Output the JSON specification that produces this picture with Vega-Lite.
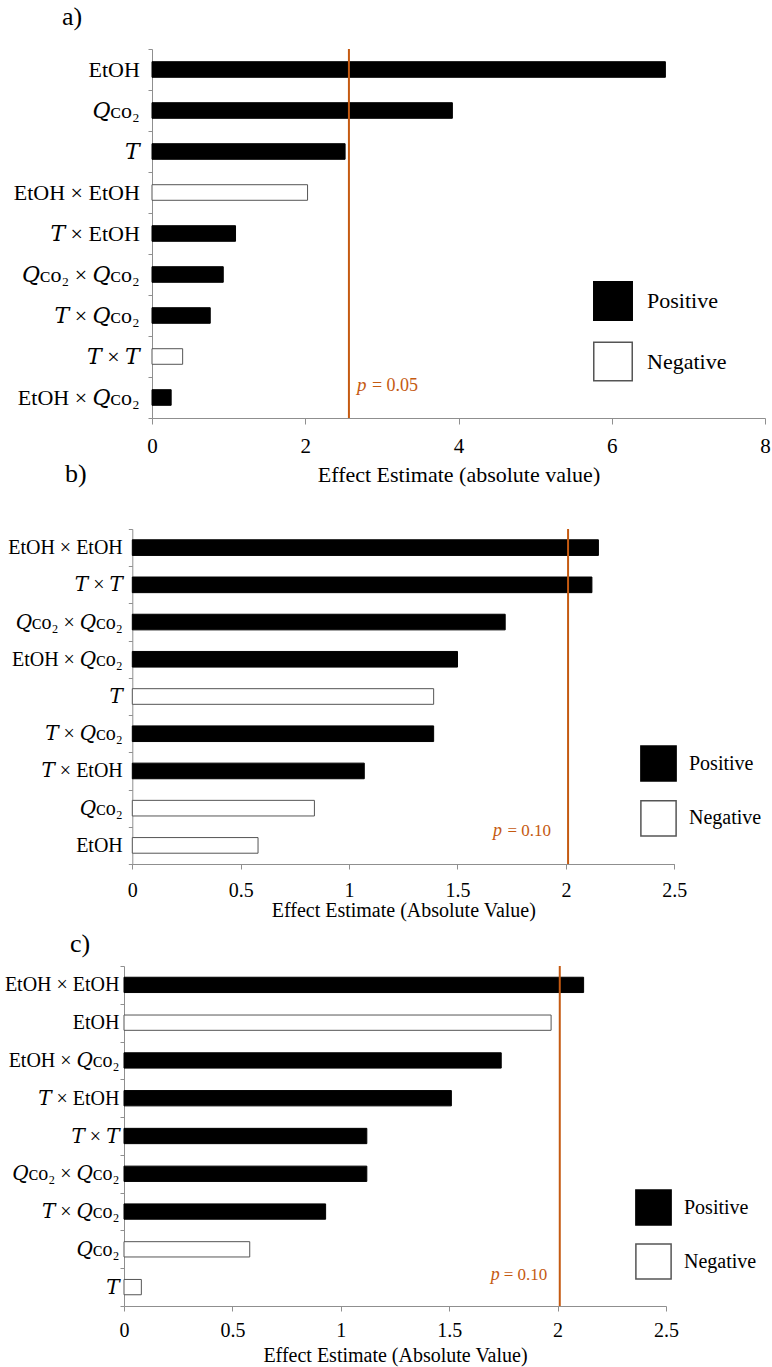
{
  "$schema": "https://vega.github.io/schema/vega-lite/v6.json",
  "background": "white",
  "padding": {"left": 4, "top": 4, "right": 2, "bottom": 2},
  "config": {
    "font": "Liberation Serif",
    "view": {"stroke": null},
    "axis": {
      "domainColor": "#8f8f8f",
      "tickColor": "#8f8f8f",
      "labelColor": "#000000",
      "titleColor": "#000000",
      "titleFontWeight": "normal",
      "labelFont": "Liberation Serif, DejaVu Serif",
      "titleFont": "Liberation Serif",
      "grid": false,
      "labelOverlap": false,
      "labelFlush": false
    },
    "title": {"fontWeight": "normal", "color": "#000000", "font": "Liberation Serif", "anchor": "start", "frame": "group", "baseline": "alphabetic", "fontSize": 26},
    "legend": {"labelFont": "Liberation Serif", "labelColor": "#000000", "padding": 0, "symbolType": "square", "orient": "none"}
  },
  "datasets": {
    "effectsA": [
      {"term": "EtOH", "effect": 6.70, "sign": "Positive"},
      {"term": "𝑄ᴄᴏ₂", "effect": 3.92, "sign": "Positive"},
      {"term": "𝑇", "effect": 2.52, "sign": "Positive"},
      {"term": "EtOH × EtOH", "effect": 2.03, "sign": "Negative"},
      {"term": "𝑇 × EtOH", "effect": 1.09, "sign": "Positive"},
      {"term": "𝑄ᴄᴏ₂ × 𝑄ᴄᴏ₂", "effect": 0.93, "sign": "Positive"},
      {"term": "𝑇 × 𝑄ᴄᴏ₂", "effect": 0.76, "sign": "Positive"},
      {"term": "𝑇 × 𝑇", "effect": 0.40, "sign": "Negative"},
      {"term": "EtOH × 𝑄ᴄᴏ₂", "effect": 0.25, "sign": "Positive"}
    ],
    "effectsB": [
      {"term": "EtOH × EtOH", "effect": 2.15, "sign": "Positive"},
      {"term": "𝑇 × 𝑇", "effect": 2.12, "sign": "Positive"},
      {"term": "𝑄ᴄᴏ₂ × 𝑄ᴄᴏ₂", "effect": 1.72, "sign": "Positive"},
      {"term": "EtOH × 𝑄ᴄᴏ₂", "effect": 1.50, "sign": "Positive"},
      {"term": "𝑇", "effect": 1.39, "sign": "Negative"},
      {"term": "𝑇 × 𝑄ᴄᴏ₂", "effect": 1.39, "sign": "Positive"},
      {"term": "𝑇 × EtOH", "effect": 1.07, "sign": "Positive"},
      {"term": "𝑄ᴄᴏ₂", "effect": 0.84, "sign": "Negative"},
      {"term": "EtOH", "effect": 0.58, "sign": "Negative"}
    ],
    "effectsC": [
      {"term": "EtOH × EtOH", "effect": 2.12, "sign": "Positive"},
      {"term": "EtOH", "effect": 1.97, "sign": "Negative"},
      {"term": "EtOH × 𝑄ᴄᴏ₂", "effect": 1.74, "sign": "Positive"},
      {"term": "𝑇 × EtOH", "effect": 1.51, "sign": "Positive"},
      {"term": "𝑇 × 𝑇", "effect": 1.12, "sign": "Positive"},
      {"term": "𝑄ᴄᴏ₂ × 𝑄ᴄᴏ₂", "effect": 1.12, "sign": "Positive"},
      {"term": "𝑇 × 𝑄ᴄᴏ₂", "effect": 0.93, "sign": "Positive"},
      {"term": "𝑄ᴄᴏ₂", "effect": 0.58, "sign": "Negative"},
      {"term": "𝑇", "effect": 0.08, "sign": "Negative"}
    ]
  },
  "bounds": "full",
  "spacing": -24,
  "resolve": {"scale": {"x": "independent", "y": "independent", "fill": "independent", "stroke": "independent"}},
  "vconcat": [
    {
      "title": {"text": "a)", "dx": -62, "offset": 8},
      "width": 641,
      "height": 369,
      "layer": [
        {
          "data": {"name": "effectsA"},
          "mark": {"type": "bar", "height": {"band": 0.38}, "strokeWidth": 1},
          "encoding": {
            "y": {"field": "term", "type": "nominal", "sort": null, "title": null,
                  "scale": {"paddingInner": 0, "paddingOuter": 0},
                  "axis": {"tickBand": "extent", "tickSize": 4, "labelPadding": 8.7, "labelFontSize": 22, "offset": -28}},
            "x": {"field": "effect", "type": "quantitative", "title": "Effect Estimate (absolute value)",
                  "scale": {"domain": [0, 8], "nice": false, "range": [28, 641]},
                  "axis": {"values": [0, 2, 4, 6, 8], "tickSize": 6, "labelPadding": 11, "labelFontSize": 21, "titleFontSize": 22, "titlePadding": 8, "format": "~g"}},
            "fill": {"field": "sign", "type": "nominal", "scale": {"domain": ["Positive", "Negative"], "range": ["#000000", "#ffffff"]},
                     "legend": {"title": null, "orient": "none", "legendX": 469, "legendY": 232, "symbolSize": 1480, "symbolStrokeWidth": 1.5, "labelFontSize": 22, "labelOffset": 14, "rowPadding": 14.5}},
            "stroke": {"field": "sign", "type": "nominal", "scale": {"domain": ["Positive", "Negative"], "range": ["#000000", "#555555"]},
                       "legend": {"title": null, "orient": "none", "legendX": 469, "legendY": 232, "symbolSize": 1480, "symbolStrokeWidth": 1.5, "labelFontSize": 22, "labelOffset": 14, "rowPadding": 14.5}}
          }
        },
        {
          "data": {"values": [{"threshold": 2.57, "note": "= 0.05"}]},
          "layer": [
            {"mark": {"type": "rule", "color": "#C55A11", "strokeWidth": 2},
             "encoding": {"x": {"field": "threshold", "type": "quantitative", "title": "Effect Estimate (absolute value)"}}},
            {"mark": {"type": "text", "text": "p", "fontStyle": "italic", "fontSize": 19, "color": "#C55A11", "align": "left", "baseline": "alphabetic", "dx": 8, "dy": -27},
             "encoding": {"x": {"field": "threshold", "type": "quantitative", "title": "Effect Estimate (absolute value)"}, "y": {"value": "height"}}},
            {"mark": {"type": "text", "fontSize": 18, "color": "#C55A11", "align": "left", "baseline": "alphabetic", "dx": 23, "dy": -27},
             "encoding": {"x": {"field": "threshold", "type": "quantitative", "title": "Effect Estimate (absolute value)"}, "y": {"value": "height"}, "text": {"field": "note"}}}
          ]
        }
      ]
    },
    {
      "bounds": "full",
      "spacing": 10,
      "resolve": {"scale": {"x": "independent", "y": "independent", "fill": "independent", "stroke": "independent"}},
      "vconcat": [
        {
          "title": {"text": "b)", "dx": -59, "offset": 32},
          "width": 551,
          "height": 335,
          "layer": [
            {
              "data": {"name": "effectsB"},
              "mark": {"type": "bar", "height": {"band": 0.42}, "strokeWidth": 1},
              "encoding": {
                "y": {"field": "term", "type": "nominal", "sort": null, "title": null,
                      "scale": {"paddingInner": 0, "paddingOuter": 0},
                      "axis": {"tickBand": "extent", "tickSize": 4, "labelPadding": 6, "labelFontSize": 20, "offset": -8.3}},
                "x": {"field": "effect", "type": "quantitative", "title": "Effect Estimate (Absolute Value)",
                      "scale": {"domain": [0, 2.5], "nice": false, "range": [8.3, 550.3]},
                      "axis": {"values": [0, 0.5, 1, 1.5, 2, 2.5], "tickSize": 5, "labelPadding": 11, "labelFontSize": 20, "titleFontSize": 20, "titlePadding": 0.5, "format": "~g"}},
                "fill": {"field": "sign", "type": "nominal", "scale": {"domain": ["Positive", "Negative"], "range": ["#000000", "#ffffff"]},
                         "legend": {"title": null, "orient": "none", "legendX": 516, "legendY": 216, "symbolSize": 1240, "symbolStrokeWidth": 1.5, "labelFontSize": 20, "labelOffset": 12, "rowPadding": 11.8}},
                "stroke": {"field": "sign", "type": "nominal", "scale": {"domain": ["Positive", "Negative"], "range": ["#000000", "#555555"]},
                           "legend": {"title": null, "orient": "none", "legendX": 516, "legendY": 216, "symbolSize": 1240, "symbolStrokeWidth": 1.5, "labelFontSize": 20, "labelOffset": 12, "rowPadding": 11.8}}
              }
            },
            {
              "data": {"values": [{"threshold": 2.01, "note": "= 0.10"}]},
              "layer": [
                {"mark": {"type": "rule", "color": "#C55A11", "strokeWidth": 2},
                 "encoding": {"x": {"field": "threshold", "type": "quantitative", "title": "Effect Estimate (Absolute Value)"}}},
                {"mark": {"type": "text", "text": "p", "fontStyle": "italic", "fontSize": 18, "color": "#C55A11", "align": "right", "baseline": "alphabetic", "dx": -66, "dy": -28},
                 "encoding": {"x": {"field": "threshold", "type": "quantitative", "title": "Effect Estimate (Absolute Value)"}, "y": {"value": "height"}}},
                {"mark": {"type": "text", "fontSize": 17, "color": "#C55A11", "align": "right", "baseline": "alphabetic", "dx": -17, "dy": -28},
                 "encoding": {"x": {"field": "threshold", "type": "quantitative", "title": "Effect Estimate (Absolute Value)"}, "y": {"value": "height"}, "text": {"field": "note"}}}
              ]
            }
          ]
        },
        {
          "title": {"text": "c)", "dx": -54, "offset": -1},
          "width": 542,
          "height": 340,
          "layer": [
            {
              "data": {"name": "effectsC"},
              "mark": {"type": "bar", "height": {"band": 0.405}, "strokeWidth": 1},
              "encoding": {
                "y": {"field": "term", "type": "nominal", "sort": null, "title": null,
                      "scale": {"paddingInner": 0, "paddingOuter": 0},
                      "axis": {"tickBand": "extent", "tickSize": 4, "labelPadding": 1, "labelFontSize": 20}},
                "x": {"field": "effect", "type": "quantitative", "title": "Effect Estimate (Absolute Value)",
                      "scale": {"domain": [0, 2.5], "nice": false},
                      "axis": {"values": [0, 0.5, 1, 1.5, 2, 2.5], "tickSize": 5, "labelPadding": 9, "labelFontSize": 20, "titleFontSize": 20, "titlePadding": 5, "format": "~g"}},
                "fill": {"field": "sign", "type": "nominal", "scale": {"domain": ["Positive", "Negative"], "range": ["#000000", "#ffffff"]},
                         "legend": {"title": null, "orient": "none", "legendX": 511, "legendY": 223, "symbolSize": 1240, "symbolStrokeWidth": 1.5, "labelFontSize": 20, "labelOffset": 12, "rowPadding": 11}},
                "stroke": {"field": "sign", "type": "nominal", "scale": {"domain": ["Positive", "Negative"], "range": ["#000000", "#555555"]},
                           "legend": {"title": null, "orient": "none", "legendX": 511, "legendY": 223, "symbolSize": 1240, "symbolStrokeWidth": 1.5, "labelFontSize": 20, "labelOffset": 12, "rowPadding": 11}}
              }
            },
            {
              "data": {"values": [{"threshold": 2.01, "note": "= 0.10"}]},
              "layer": [
                {"mark": {"type": "rule", "color": "#C55A11", "strokeWidth": 2},
                 "encoding": {"x": {"field": "threshold", "type": "quantitative", "title": "Effect Estimate (Absolute Value)"}}},
                {"mark": {"type": "text", "text": "p", "fontStyle": "italic", "fontSize": 18, "color": "#C55A11", "align": "right", "baseline": "alphabetic", "dx": -60, "dy": -26.5},
                 "encoding": {"x": {"field": "threshold", "type": "quantitative", "title": "Effect Estimate (Absolute Value)"}, "y": {"value": "height"}}},
                {"mark": {"type": "text", "fontSize": 17, "color": "#C55A11", "align": "right", "baseline": "alphabetic", "dx": -12.5, "dy": -26.5},
                 "encoding": {"x": {"field": "threshold", "type": "quantitative", "title": "Effect Estimate (Absolute Value)"}, "y": {"value": "height"}, "text": {"field": "note"}}}
              ]
            }
          ]
        }
      ]
    }
  ]
}
